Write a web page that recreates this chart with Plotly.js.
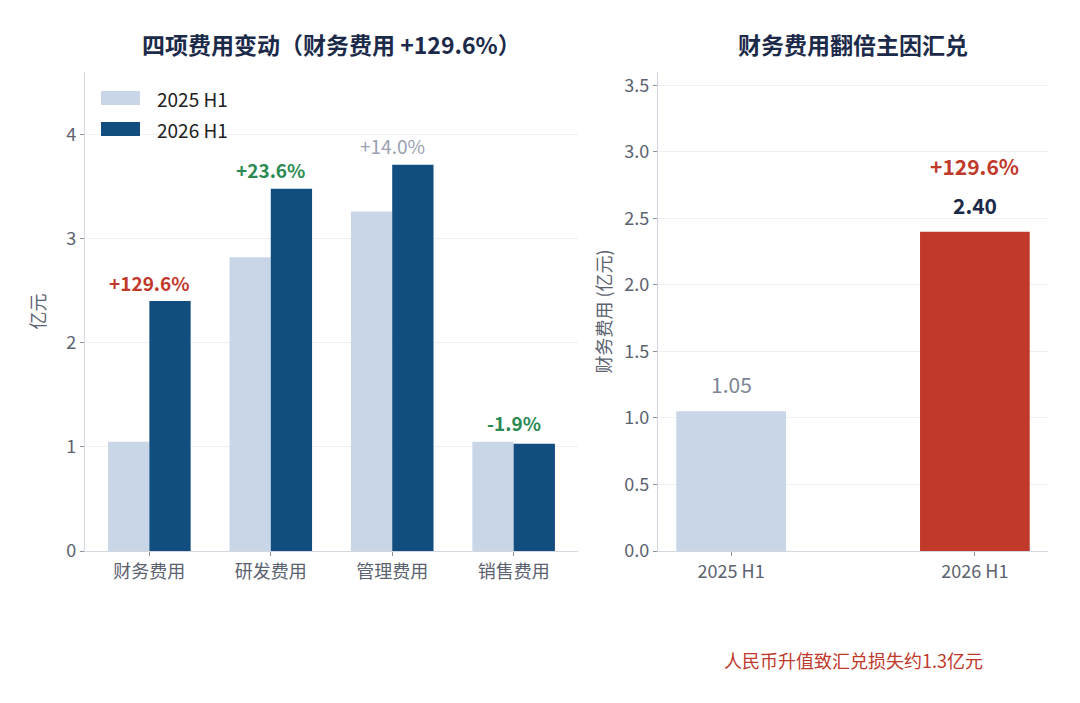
<!DOCTYPE html>
<html>
<head>
<meta charset="utf-8">
<script src="https://cdn.plot.ly/plotly-3.0.1.min.js"></script>
<style>
  html, body { margin: 0; padding: 0; background: #fff; }
  #chart { width: 1080px; height: 703px; }
</style>
</head>
<body>
<div id="chart"></div>
<script>
// left panel: four expense items, 亿元
const categories = ['财务费用', '研发费用', '管理费用', '销售费用'];
const h1_2025 = [1.05, 2.82, 3.26, 1.05];
const h1_2026 = [2.40, 3.48, 3.71, 1.03];
const changeLabels = ['+129.6%', '+23.6%', '+14.0%', '-1.9%'];
const seriesNames = ['2025 H1', '2026 H1'];

// right panel: financial expense only
const periods = ['2025 H1', '2026 H1'];
const finExpense = [1.05, 2.40];
const finChange = '+129.6%';
const note = '人民币升值致汇兑损失约1.3亿元';

const FONT = '"Noto Sans CJK SC", "Noto Sans", sans-serif';
const LIGHT = '#c8d6e8';
const DARK = '#124d80';
const RED = '#c0392b';
const GREEN = '#2a8a52';
const GREY = '#9aa1b2';
const NAVY = '#1c2a4a';
const TICK = '#5b6270';
const changeColors = [RED, GREEN, GREY, GREEN];
const changeBold = [true, true, false, true];
const seriesColors = [LIGHT, DARK];

const W = 0.34;
const PX = v => v / 1080;          // pixel -> paper x
const PY = v => 1 - v / 703;       // pixel -> paper y

const traces = [
  {
    type: 'bar', name: seriesNames[0], x: categories, y: h1_2025,
    width: W, offset: -W, marker: {color: LIGHT},
    xaxis: 'x', yaxis: 'y', hoverinfo: 'skip'
  },
  {
    type: 'bar', name: seriesNames[1], x: categories, y: h1_2026,
    width: W, offset: 0, marker: {color: DARK},
    xaxis: 'x', yaxis: 'y', hoverinfo: 'skip'
  },
  {
    type: 'bar', name: 'fin', x: periods, y: finExpense,
    width: 0.45, offset: -0.225, marker: {color: [LIGHT, RED]},
    xaxis: 'x2', yaxis: 'y2', hoverinfo: 'skip'
  }
];

const annotations = [];
const shapes = [];
categories.forEach((c, i) => {
  annotations.push({
    xref: 'x', yref: 'y', x: c, y: Math.max(h1_2025[i], h1_2026[i]),
    xanchor: 'center', yanchor: 'middle', yshift: 19, showarrow: false,
    text: changeBold[i] ? '<b>' + changeLabels[i] + '</b>' : changeLabels[i],
    font: {family: FONT, size: 19, color: changeColors[i]}
  });
});
annotations.push({
  xref: 'x2', yref: 'y2', x: periods[0], y: finExpense[0],
  xanchor: 'center', yanchor: 'middle', yshift: 27, showarrow: false,
  text: finExpense[0].toFixed(2), font: {family: FONT, size: 21, color: '#7d8596'}
});
annotations.push({
  xref: 'x2', yref: 'y2', x: periods[1], y: finExpense[1],
  xanchor: 'center', yanchor: 'middle', yshift: 27, showarrow: false,
  text: '<b>' + finExpense[1].toFixed(2) + '</b>', font: {family: FONT, size: 21, color: NAVY}
});
annotations.push({
  xref: 'x2', yref: 'y2', x: periods[1], y: finExpense[1],
  xanchor: 'center', yanchor: 'middle', yshift: 66, showarrow: false,
  text: '<b>' + finChange + '</b>', font: {family: FONT, size: 21, color: RED}
});
// panel titles
annotations.push({
  xref: 'paper', yref: 'paper', x: PX((85 + 578) / 2), y: PY(44),
  xanchor: 'center', yanchor: 'middle', showarrow: false,
  text: '<b>四项费用变动（财务费用 +129.6%）</b>', font: {family: FONT, size: 23, color: NAVY}
});
annotations.push({
  xref: 'paper', yref: 'paper', x: PX((658 + 1048) / 2), y: PY(44),
  xanchor: 'center', yanchor: 'middle', showarrow: false,
  text: '<b>财务费用翻倍主因汇兑</b>', font: {family: FONT, size: 23, color: NAVY}
});
// footnote
annotations.push({
  xref: 'paper', yref: 'paper', x: PX(853), y: PY(660),
  xanchor: 'center', yanchor: 'middle', showarrow: false,
  text: note, font: {family: FONT, size: 18, color: RED}
});

// legend with wide swatches, matplotlib style
seriesNames.forEach((n, i) => {
  const cy = 98 + i * 31;
  shapes.push({
    type: 'rect', xref: 'paper', yref: 'paper', layer: 'above',
    x0: PX(101), x1: PX(140), y0: PY(cy - 7), y1: PY(cy + 7),
    fillcolor: seriesColors[i], line: {width: 0}
  });
  annotations.push({
    xref: 'paper', yref: 'paper', x: PX(155), y: PY(cy),
    xanchor: 'left', yanchor: 'middle', showarrow: false,
    text: n, font: {family: FONT, size: 19, color: '#222'}
  });
});

const axisCommon = {
  showline: true, linecolor: '#d3d7df', linewidth: 1.2,
  ticks: 'outside', ticklen: 4, tickcolor: '#8a909c',
  tickfont: {family: FONT, size: 18, color: TICK},
  zeroline: false, fixedrange: true
};

const yTop = PY(72), yBot = PY(551);

const layout = {
  width: 1080, height: 703,
  margin: {l: 0, r: 0, t: 0, b: 0},
  paper_bgcolor: '#fff', plot_bgcolor: '#fff',
  font: {family: FONT, color: TICK},
  showlegend: false,
  xaxis: Object.assign({}, axisCommon, {
    domain: [PX(85), PX(578)], anchor: 'y',
    type: 'category', range: [-0.53, 3.53], showgrid: false
  }),
  yaxis: Object.assign({}, axisCommon, {
    domain: [yBot, yTop], anchor: 'x',
    range: [0, 4.6], dtick: 1, showgrid: true, gridcolor: '#eef0f3',
    title: {text: '亿元', standoff: 16, font: {family: FONT, size: 18, color: TICK}}
  }),
  xaxis2: Object.assign({}, axisCommon, {
    domain: [PX(658), PX(1048)], anchor: 'y2',
    type: 'category', range: [-0.3, 1.3], showgrid: false
  }),
  yaxis2: Object.assign({}, axisCommon, {
    domain: [yBot, yTop], anchor: 'x2',
    range: [0, 3.6], dtick: 0.5, tickformat: '.1f', showgrid: true, gridcolor: '#eef0f3',
    title: {text: '财务费用 (亿元)', standoff: 8, font: {family: FONT, size: 18, color: TICK}}
  }),
  shapes: shapes,
  annotations: annotations
};

Plotly.newPlot('chart', traces, layout, {displayModeBar: false, staticPlot: true});
</script>
</body>
</html>
